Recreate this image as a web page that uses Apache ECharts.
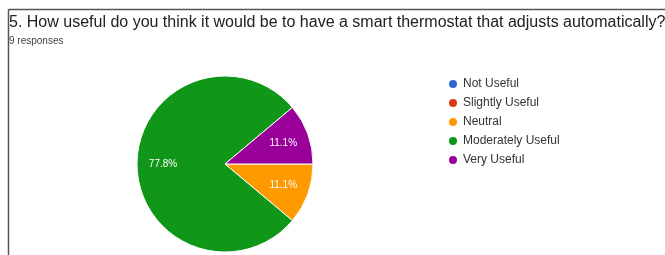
<!DOCTYPE html>
<html>
<head>
<meta charset="utf-8">
<script src="https://cdn.jsdelivr.net/npm/echarts@6/dist/echarts.min.js"></script>
<style>
  html, body { margin: 0; padding: 0; background: #fff; }
  #chart { width: 665px; height: 255px; }
</style>
</head>
<body>
<div id="chart"></div>
<script>
const titleText = '5. How useful do you think it would be to have a smart thermostat that adjusts automatically?'
const subText = '9 responses'
const categories = ['Not Useful', 'Slightly Useful', 'Neutral', 'Moderately Useful', 'Very Useful']
const counts = [0, 0, 1, 7, 1]
const colors = ['#3366cc', '#dc3912', '#ff9900', '#109618', '#990099']

const chart = echarts.init(document.getElementById('chart'))

const pieData = categories.map((name, i) => ({ name, value: counts[i] }))
const total = counts.reduce((a, b) => a + b, 0)

const option = {
  animation: false,
  color: colors,
  title: {
    text: titleText,
    subtext: subText,
    left: 4,
    top: 10,
    itemGap: 5,
    textStyle: { fontFamily: 'Liberation Sans', fontSize: 16, fontWeight: 'normal', color: '#202124' },
    subtextStyle: { fontFamily: 'Liberation Sans', fontSize: 10, color: '#444' }
  },
  legend: {
    orient: 'vertical',
    left: 442,
    top: 73,
    icon: 'circle',
    itemWidth: 10,
    itemHeight: 10,
    itemGap: 7,
    textStyle: { fontFamily: 'Liberation Sans', fontSize: 12, color: '#333' },
    data: categories
  },
  graphic: [
    { type: 'line', shape: { x1: 9, y1: 9.5, x2: 665, y2: 9.5 }, style: { stroke: '#555', lineWidth: 1.5 } },
    { type: 'line', shape: { x1: 8.5, y1: 9, x2: 8.5, y2: 255 }, style: { stroke: '#555', lineWidth: 1.5 } }
  ],
  series: [
    {
      type: 'pie',
      center: [225, 164],
      radius: [0, 88],
      startAngle: 0,
      clockwise: true,
      stillShowZeroSum: false,
      itemStyle: { borderColor: '#fff', borderWidth: 1 },
      label: { show: false },
      labelLine: { show: false },
      data: pieData
    },
    {
      // transparent ring only to place the percent labels further out
      type: 'pie',
      center: [225, 164],
      radius: [30, 88],
      startAngle: 0,
      clockwise: true,
      silent: true,
      legendHoverLink: false,
      itemStyle: { color: 'rgba(0,0,0,0)', borderWidth: 0 },
      label: {
        show: true,
        position: 'inside',
        fontFamily: 'Liberation Sans',
        fontSize: 10,
        color: '#fff',
        formatter: p => p.value > 0 ? (p.value / total * 100).toFixed(1) + '%' : ''
      },
      labelLine: { show: false },
      data: pieData.map(d => ({ ...d, name: d.name + ' ' }))
    }
  ]
}

chart.setOption(option)
</script>
</body>
</html>
